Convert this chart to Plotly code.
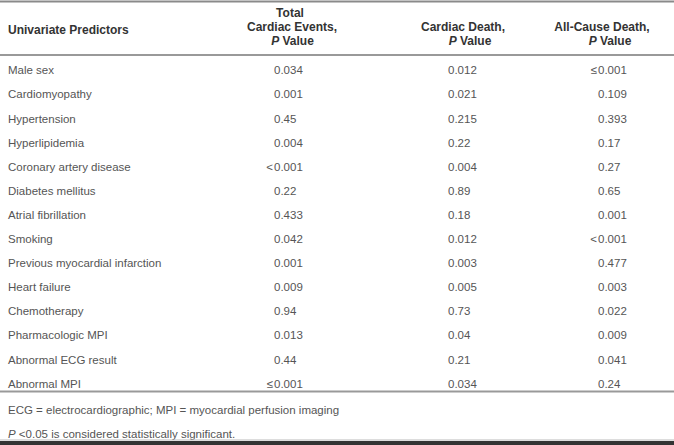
import plotly.graph_objects as go

predictors = ["Male sex", "Cardiomyopathy", "Hypertension", "Hyperlipidemia",
              "Coronary artery disease", "Diabetes mellitus", "Atrial fibrillation",
              "Smoking", "Previous myocardial infarction", "Heart failure",
              "Chemotherapy", "Pharmacologic MPI", "Abnormal ECG result", "Abnormal MPI"]
total_events = ["0.034", "0.001", "0.45", "0.004", "<0.001", "0.22", "0.433",
                "0.042", "0.001", "0.009", "0.94", "0.013", "0.44", "≤0.001"]
cardiac_death = ["0.012", "0.021", "0.215", "0.22", "0.004", "0.89", "0.18",
                 "0.012", "0.003", "0.005", "0.73", "0.04", "0.21", "0.034"]
all_cause_death = ["≤0.001", "0.109", "0.393", "0.17", "0.27", "0.65", "0.001",
                   "<0.001", "0.477", "0.003", "0.022", "0.009", "0.041", "0.24"]
footnotes = ["ECG = electrocardiographic; MPI = myocardial perfusion imaging",
             "<i>P</i> <0.05 is considered statistically significant."]

W, H = 674, 445
FONT = "Liberation Sans, Arial, sans-serif"
BODY = "#555555"
HEAD = "#333333"

row_y = [71.5 + 24.1 * i for i in range(len(predictors))]

fig = go.Figure()

def txt(xs, ys, texts, pos, size=11.5, color=BODY):
    fig.add_trace(go.Scatter(x=xs, y=ys, mode="text", text=texts, textposition=pos,
                             textfont=dict(family=FONT, size=size, color=color),
                             hoverinfo="skip", showlegend=False, cliponaxis=False))

# predictor labels
txt([8] * len(predictors), row_y, predictors, "middle right")

# value columns with hanging comparison symbols
for col_vals, x0 in [(total_events, 274), (cardiac_death, 448), (all_cause_death, 598)]:
    nums = [v.lstrip("<≤") for v in col_vals]
    syms = [v[: len(v) - len(v.lstrip("<≤"))] for v in col_vals]
    txt([x0] * len(nums), row_y, nums, "middle right")
    sx, sy, st = [], [], []
    for s, y in zip(syms, row_y):
        if s:
            sx.append(x0 - 1); sy.append(y); st.append(s)
    if st:
        txt(sx, sy, st, "middle left")

# header
hb = dict(size=12, color=HEAD)
txt([8], [30.5], ["<b>Univariate Predictors</b>"], "middle right", **hb)
txt([290, 292, 292.5], [14, 28, 42],
    ["<b>Total</b>", "<b>Cardiac Events,</b>", "<b><i>P</i> Value</b>"], "middle center", **hb)
txt([463, 470], [28, 42], ["<b>Cardiac Death,</b>", "<b><i>P</i> Value</b>"], "middle center", **hb)
txt([602, 610], [28, 42], ["<b>All-Cause Death,</b>", "<b><i>P</i> Value</b>"], "middle center", **hb)

# footnotes
txt([8, 8], [411, 435], footnotes, "middle right", size=11.5)

shapes = [
    dict(type="line", x0=0, x1=W, y0=1.5, y1=1.5, line=dict(color="#8a8a8a", width=2)),
    dict(type="line", x0=0, x1=W, y0=55, y1=55, line=dict(color="#999999", width=2)),
    dict(type="line", x0=0, x1=W, y0=391.5, y1=391.5, line=dict(color="#999999", width=2)),
    dict(type="line", x0=0, x1=W, y0=440, y1=440, line=dict(color="#bbbbbb", width=1)),
    dict(type="rect", x0=0, x1=W, y0=441, y1=446, line=dict(width=0), fillcolor="#333333"),
]

fig.update_layout(
    width=W, height=H, margin=dict(l=0, r=0, t=0, b=0),
    paper_bgcolor="white", plot_bgcolor="white",
    xaxis=dict(range=[0, W], visible=False, fixedrange=True),
    yaxis=dict(range=[H, 0], visible=False, fixedrange=True),
    shapes=shapes, showlegend=False,
)
fig.write_html("out.html", post_script="document.body.style.margin='0';",
               config={"displayModeBar": False})
